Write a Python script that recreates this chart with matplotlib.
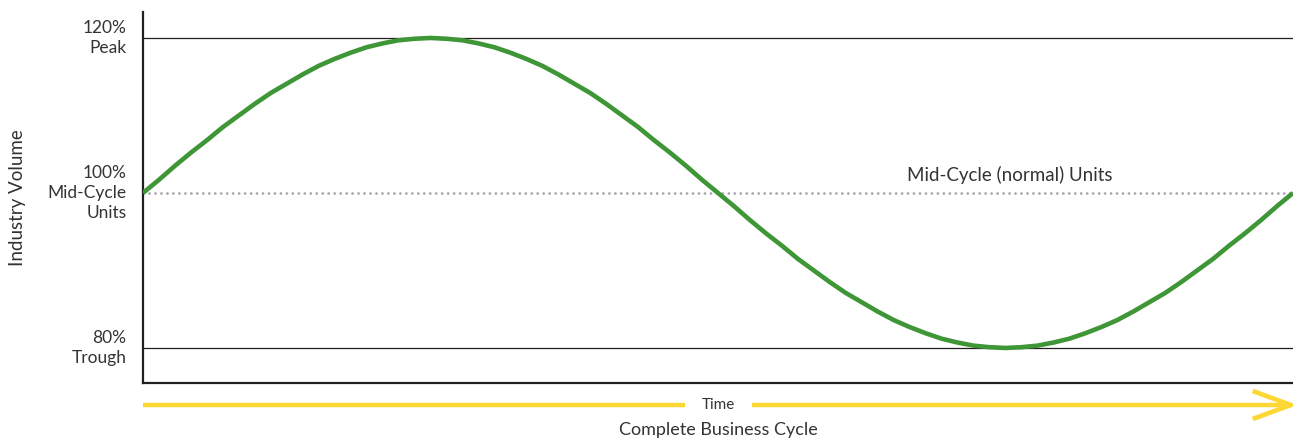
import matplotlib
matplotlib.use("Agg")
import matplotlib.pyplot as plt

# ---- data ----
industry_volume = [100, 101.7, 103.5, 105.2, 106.8, 108.5, 110, 111.5, 112.9, 114.1,
                   115.3, 116.4, 117.3, 118.1, 118.8, 119.3, 119.7, 119.9, 120,
                   119.9, 119.7, 119.3, 118.8, 118.1, 117.3, 116.4, 115.3, 114.1,
                   112.9, 111.5, 110, 108.5, 106.8, 105.2, 103.5, 101.7, 100,
                   98.3, 96.5, 94.8, 93.2, 91.5, 90, 88.5, 87.1, 85.9,
                   84.7, 83.6, 82.7, 81.9, 81.2, 80.7, 80.3, 80.1, 80,
                   80.1, 80.3, 80.7, 81.2, 81.9, 82.7, 83.6, 84.7, 85.9,
                   87.1, 88.5, 90, 91.5, 93.2, 94.8, 96.5, 98.3, 100]
cycle_fraction = [i / (len(industry_volume) - 1) for i in range(len(industry_volume))]
tick_values = [120, 100, 80]
tick_labels = ["120%\nPeak", "100%\nMid-Cycle\nUnits", "80%\nTrough"]
mid_cycle = 100

GREEN = "#3f9637"
YELLOW = "#fdd835"
TEXT = "#333333"
FONT = ["Lato", "DejaVu Sans"]
plt.rcParams["font.family"] = FONT

W, H = 1293, 442
fig = plt.figure(figsize=(W / 100, H / 100), dpi=100)
ax = fig.add_axes([143 / W, (H - 383) / H, (W - 143) / W, (383 - 12) / H])

ax.set_xlim(0, 1)
ax.set_ylim(75.48, 123.35)

# horizontal reference lines
for v in (120, 80):
    ax.axhline(v, color="#231f20", lw=0.9, zorder=1)
ax.axhline(mid_cycle, color="#a7a9ac", lw=2.0, linestyle=(0, (0.05, 2.1)),
           dash_capstyle="round", zorder=1)

ax.plot(cycle_fraction, industry_volume, color=GREEN, lw=3.3, zorder=3,
        solid_capstyle="butt", solid_joinstyle="round")

for s in ("top", "right"):
    ax.spines[s].set_visible(False)
for s in ("left", "bottom"):
    ax.spines[s].set_linewidth(1.6)
    ax.spines[s].set_color("#231f20")

ax.set_xticks([])
ax.set_yticks(tick_values)
ax.set_yticklabels(tick_labels, fontsize=12.5, color=TEXT, linespacing=1.3,
                   ha="right", va="center")
ax.tick_params(axis="y", length=0, pad=12)

ax.set_ylabel("Industry Volume", fontsize=13.5, color=TEXT)
ax.yaxis.set_label_coords(-117 / 1150, 0.5)

ax.text((907 - 143) / 1150, 102.3, "Mid-Cycle (normal) Units", fontsize=13.5,
        color=TEXT, ha="left", va="center")

# time arrow under the axis
ya = -0.0593
ax.plot([0, 0.4713], [ya, ya], color=YELLOW, lw=3.2, transform=ax.transAxes,
        clip_on=False, solid_capstyle="butt")
ax.plot([0.5296, 0.998], [ya, ya], color=YELLOW, lw=3.2, transform=ax.transAxes,
        clip_on=False, solid_capstyle="butt")
ax.plot([0.965, 0.998, 0.965], [-0.0216, ya, -0.097], color=YELLOW, lw=3.4,
        transform=ax.transAxes, clip_on=False, solid_capstyle="butt",
        solid_joinstyle="miter")
ax.text(0.5, ya, "Time", fontsize=11, color=TEXT, ha="center", va="center",
        transform=ax.transAxes)
ax.text(0.5, -0.128, "Complete Business Cycle", fontsize=13, color=TEXT,
        ha="center", va="center", transform=ax.transAxes)

fig.savefig("out.png", dpi=100)
